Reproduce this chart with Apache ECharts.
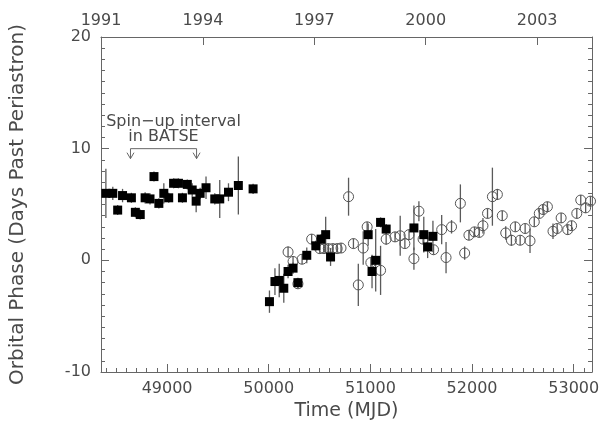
<!DOCTYPE html>
<html>
<head>
<meta charset="utf-8">
<script src="https://cdn.jsdelivr.net/npm/echarts@6.0.0/dist/echarts.min.js"></script>
<style>
  html, body { margin: 0; padding: 0; background: #fff; }
  #main { width: 602px; height: 428px; }
</style>
</head>
<body>
<div id="main"></div>
<script>
// BATSE points (filled squares): MJD, orbital phase (days), error
const filledMjd = [48398, 48466, 48514, 48562, 48649, 48688, 48736, 48784, 48832, 48871,
  48919, 48968, 49016, 49064, 49112, 49151, 49199, 49247, 49286, 49325,
  49383, 49469, 49518, 49604, 49701, 49846,
  50007, 50061, 50103, 50148, 50190, 50239, 50287, 50374, 50463, 50515,
  50560, 50608, 50978, 51016, 51052, 51100, 51155, 51428, 51525, 51563, 51615];
const filledPhase = [6.0, 6.0, 4.5, 5.8, 5.6, 4.3, 4.1, 5.6, 5.5, 7.5,
  5.1, 6.0, 5.6, 6.9, 6.9, 5.6, 6.8, 6.3, 5.3, 6.0,
  6.5, 5.5, 5.5, 6.1, 6.7, 6.4,
  -3.7, -1.9, -1.8, -2.5, -1.0, -0.7, -2.0, 0.45, 1.3, 1.9,
  2.3, 0.3, 2.3, -1.0, 0.0, 3.4, 2.8, 2.9, 2.3, 1.2, 2.15];
const filledErr = [2.2, 0.6, 0.4, 0.6, 0.3, 0.3, 0.3, 0.5, 0.5, 0.2,
  0.3, 0.9, 0.3, 0.3, 0.3, 0.3, 0.3, 0.6, 1.0, 0.5,
  1.0, 0.5, 1.7, 0.8, 2.6, 0,
  1.0, 1.2, 1.5, 1.3, 0.6, 0.5, 0.4, 0.7, 0.4, 0.4,
  1.6, 0.8, 1.0, 1.5, 2.8, 0.4, 0.3, 2.0, 1.6, 1.0, 1.4];

// RXTE points (open circles)
const openMjd = [50190, 50239, 50287, 50328, 50422, 50502, 50543, 50586, 50630, 50673,
  50711, 50785, 50833, 50881, 50929, 50968, 51004, 51100, 51155, 51242,
  51293, 51339, 51380, 51428, 51477, 51518, 51621, 51701, 51744, 51798,
  51885, 51927, 51969, 52024, 52070, 52107, 52152, 52200, 52249, 52297,
  52331, 52387, 52425, 52473, 52522, 52570, 52612, 52661, 52699, 52741,
  52796, 52837, 52876, 52941, 52979, 53030, 53069, 53117, 53165];
const openPhase = [0.75, -0.1, -2.1, 0.1, 1.9, 1.05, 1.05, 1.05, 1.05, 1.05,
  1.1, 5.7, 1.5, -2.2, 1.1, 3.0, -0.2, -0.9, 1.9, 2.1,
  2.2, 1.5, 2.3, 0.15, 4.4, 1.9, 0.95, 2.75, 0.25, 3.0,
  5.1, 0.65, 2.25, 2.55, 2.5, 3.1, 4.2, 5.7, 5.9, 4.0,
  2.45, 1.8, 3.0, 1.8, 2.85, 1.75, 3.45, 4.2, 4.55, 4.8,
  2.6, 2.85, 3.8, 2.75, 3.1, 4.2, 5.4, 4.7, 5.3];
const openErr = [0.5, 0.3, 0.3, 0.3, 0.4, 0.3, 0.3, 0.3, 0.3, 0.3,
  0.3, 1.7, 0.3, 1.9, 1.5, 0.4, 0.5, 2.2, 0.5, 0.3,
  1.8, 0.3, 0.3, 1.0, 0.9, 0.3, 0.3, 1.3, 1.4, 0.6,
  1.7, 0.6, 0.3, 0.3, 0.3, 0.7, 0.3, 2.6, 0.5, 0.3,
  0.6, 0.5, 0.3, 0.3, 0.3, 1.1, 0.3, 0.3, 0.3, 0.3,
  0.7, 0.3, 0.3, 0.4, 0.4, 0.3, 0.4, 0.4, 0.4];

// axes
const XMIN = 48350, XMAX = 53180;
const mjdTicks = [49000, 50000, 51000, 52000, 53000];
const yearTickMjd = [49353, 50449, 51544, 52640];
const yearLabelMjd = [XMIN, 49353, 50449, 51544, 52640];
const yearLabels = ['1991', '1994', '1997', '2000', '2003'];
const spinUp = [48640, 49290];

const minorX = [];
for (let v = 48400; v < XMAX; v += 100) minorX.push(v);

const FONT = 'DejaVu Sans';
const TXT = '#4a4a4a';
const LINE = '#666';

function errData(mjd, ph, err) {
  return mjd.map((m, i) => [m, ph[i] - Math.max(err[i], 0.45), ph[i] + Math.max(err[i], 0.45)]);
}
function errSeries(data, z) {
  return {
    type: 'custom',
    data: data,
    encode: { x: 0, y: [1, 2] },
    z: z,
    silent: true,
    renderItem: function (params, api) {
      const a = api.coord([api.value(0), api.value(1)]);
      const b = api.coord([api.value(0), api.value(2)]);
      return {
        type: 'line',
        shape: { x1: a[0], y1: a[1], x2: b[0], y2: b[1] },
        style: { stroke: '#5a5a5a', lineWidth: 1.3 }
      };
    }
  };
}

const chart = echarts.init(document.getElementById('main'), null, { renderer: 'canvas' });
const axisBase = {
  type: 'value', min: XMIN, max: XMAX,
  splitLine: { show: false },
  axisLine: { show: true, onZero: false, lineStyle: { color: LINE, width: 1 } }
};
chart.setOption({
  animation: false,
  backgroundColor: '#fff',
  textStyle: { fontFamily: FONT },
  grid: { left: 96, right: 5, top: 37, bottom: 56 },
  xAxis: [
    Object.assign({}, axisBase, {
      position: 'bottom',
      name: 'Time (MJD)', nameLocation: 'middle', nameGap: 23,
      nameTextStyle: { fontFamily: FONT, fontSize: 19, color: TXT },
      axisTick: { inside: true, length: 8, customValues: mjdTicks, lineStyle: { color: LINE } },
      axisLabel: { customValues: mjdTicks, margin: 9, fontFamily: FONT, fontSize: 16, color: TXT,
        formatter: function (v) { return String(v); } }
    }),
    Object.assign({}, axisBase, {
      position: 'top',
      axisTick: { inside: true, length: 8, customValues: yearTickMjd, lineStyle: { color: LINE } },
      axisLabel: {
        customValues: yearLabelMjd, margin: 8, fontFamily: FONT, fontSize: 16, color: TXT,
        showMinLabel: true,
        formatter: function (v) { return yearLabels[yearLabelMjd.indexOf(v)]; }
      }
    }),
    Object.assign({}, axisBase, {
      position: 'bottom',
      axisLine: { show: false, onZero: false },
      axisTick: { inside: true, length: 4, customValues: minorX, lineStyle: { color: LINE } },
      axisLabel: { show: false }
    })
  ],
  yAxis: [
    {
      type: 'value', position: 'left', min: -10, max: 20, interval: 10,
      name: 'Orbital Phase (Days Past Periastron)', nameLocation: 'middle', nameGap: 73,
      nameTextStyle: { fontFamily: FONT, fontSize: 20, color: TXT },
      splitLine: { show: false },
      axisLine: { show: true, onZero: false, lineStyle: { color: LINE } },
      axisTick: { inside: true, length: 8, lineStyle: { color: LINE } },
      minorTick: { show: true, splitNumber: 10, length: 4, lineStyle: { color: LINE } },
      axisLabel: { margin: 10, fontFamily: FONT, fontSize: 16, color: TXT }
    },
    {
      type: 'value', position: 'right', min: -10, max: 20, interval: 10,
      splitLine: { show: false },
      axisLine: { show: true, onZero: false, lineStyle: { color: LINE } },
      axisTick: { inside: true, length: 8, lineStyle: { color: LINE } },
      minorTick: { show: true, splitNumber: 10, length: 4, lineStyle: { color: LINE } },
      axisLabel: { show: false }
    }
  ],
  series: [
    errSeries(errData(filledMjd, filledPhase, filledErr), 2),
    {
      type: 'scatter', name: 'BATSE', symbol: 'rect', symbolSize: 9, z: 4,
      itemStyle: { color: '#000', opacity: 1 },
      data: filledMjd.map((m, i) => [m, filledPhase[i]])
    },
    {
      type: 'scatter', name: 'RXTE', symbol: 'circle', symbolSize: 10, z: 3,
      itemStyle: { color: 'rgba(255,255,255,0)', borderColor: '#555', borderWidth: 1, opacity: 1 },
      data: openMjd.map((m, i) => [m, openPhase[i]])
    },
    errSeries(errData(openMjd, openPhase, openErr), 3)
  ]
});

// spin-up annotation
const pL = chart.convertToPixel({ xAxisIndex: 0, yAxisIndex: 0 }, [spinUp[0], 10]);
const pR = chart.convertToPixel({ xAxisIndex: 0, yAxisIndex: 0 }, [spinUp[1], 10]);
const tipY = pL[1] + 10;
const lineStyle = { stroke: LINE, lineWidth: 1, fill: null };
chart.setOption({
  graphic: [
    { type: 'polyline', shape: { points: [[pL[0], tipY], [pL[0], pL[1]], [pR[0], pR[1]], [pR[0], tipY]] }, style: lineStyle },
    { type: 'polyline', shape: { points: [[pL[0] - 3.5, tipY - 6], [pL[0], tipY], [pL[0] + 3.5, tipY - 6]] }, style: lineStyle },
    { type: 'polyline', shape: { points: [[pR[0] - 3.5, tipY - 6], [pR[0], tipY], [pR[0] + 3.5, tipY - 6]] }, style: lineStyle },
    { type: 'text', x: (pL[0] + pR[0]) / 2, y: pL[1] - 12,
      style: { text: 'in BATSE', fontFamily: FONT, fontSize: 16, fill: TXT, align: 'center', verticalAlign: 'middle' } },
    { type: 'text', x: (pL[0] + pR[0]) / 2 + 10, y: pL[1] - 27,
      style: { text: 'Spin\u2212up interval', fontFamily: FONT, fontSize: 16, fill: TXT, align: 'center', verticalAlign: 'middle' } }
  ]
});
</script>
</body>
</html>
